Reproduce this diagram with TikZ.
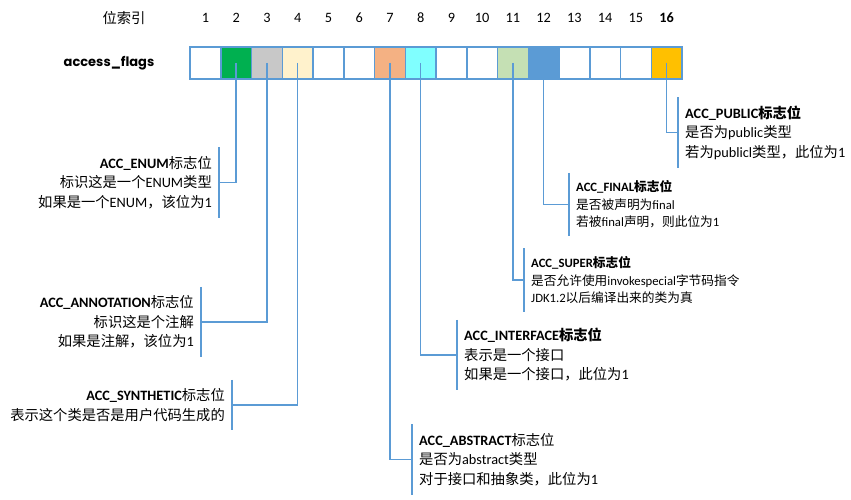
\documentclass[tikz,border=0pt]{standalone}
\usepackage{fontspec}
\setmainfont{Carlito}
\newfontfamily\zhfont{Noto Sans CJK SC}
\newfontfamily\flagfont{Poppins}
\newcommand{\zh}[1]{{\zhfont #1}}
\definecolor{cellblue}{RGB}{91,155,213}
\definecolor{flaggreen}{RGB}{0,176,80}
\definecolor{flaggray}{RGB}{200,200,200}
\definecolor{flagcream}{RGB}{255,242,204}
\definecolor{flagorange}{RGB}{244,177,131}
\definecolor{flagcyan}{RGB}{128,255,255}
\definecolor{flagsage}{RGB}{197,224,180}
\definecolor{flagamber}{RGB}{255,192,0}

\begin{document}
\begin{tikzpicture}[x=1pt, y=-1pt,
    cell/.style={draw=cellblue, line width=1.5pt, minimum width=30.75pt,
                 minimum height=32pt, inner sep=0pt},
    idx/.style={font=\fontsize{14.3}{17}\selectfont, inner sep=0pt},
    wire/.style={draw=cellblue, line width=1.4pt},
    lnote/.style={align=right, inner xsep=7pt, inner ysep=0pt,
                  minimum height=70pt, font=\fontsize{14.3}{19.5}\selectfont},
    rnote/.style={lnote, align=left},
    smallnote/.style={minimum height=63pt, font=\fontsize{12.7}{17.5}\selectfont},
]
\useasboundingbox (0,0) rectangle (851,500);

\foreach \i/\c in {1/white,2/flaggreen,3/flaggray,4/flagcream,5/white,6/white,
                   7/flagorange,8/flagcyan,9/white,10/white,11/flagsage,
                   12/cellblue,13/white,14/white,15/white,16/flagamber}
  \node[cell, fill=\c] (c\i) at ({190+30.75*(\i-0.5)},63) {};

\node[idx] (hd) at (124,18) {\zh{位索引}};
\foreach \i in {1,...,15}
  \node[idx] (n\i) at (c\i |- 0,18) {\i};
\node[idx, font=\fontsize{14.3}{17}\selectfont\bfseries] (n16) at (c16 |- 0,18) {16};

\node[font=\flagfont\bfseries\fontsize{13}{15}\selectfont] (af) at (109,63) {access\_flags};

\node[lnote, anchor=east] (enumnote) at (219,182.5)
    {\textbf{ACC\_ENUM}\zh{标志位}\\
     \zh{标识这是一个}ENUM\zh{类型}\\
     \zh{如果是一个}ENUM\zh{，该位为}1};
\node[lnote, anchor=east] (annonote) at (201,322)
    {\textbf{ACC\_ANNOTATION}\zh{标志位}\\
     \zh{标识这是个注解}\\
     \zh{如果是注解，该位为}1};
\node[lnote, anchor=east, minimum height=50pt] (synnote) at (232,405)
    {\textbf{ACC\_SYNTHETIC}\zh{标志位}\\
     \zh{表示这个类是否是用户代码生成的}};

\node[rnote, anchor=west] (absnote) at (412,459.5)
    {\textbf{ACC\_ABSTRACT}\zh{标志位}\\
     \zh{是否为}abstract\zh{类型}\\
     \zh{对于接口和抽象类，此位为}1};
\node[rnote, anchor=west] (ifnote) at (457,355)
    {\textbf{ACC\_INTERFACE\zh{标志位}}\\
     \zh{表示是一个接口}\\
     \zh{如果是一个接口，此位为}1};
\node[rnote, smallnote, anchor=west] (supnote) at (524,280)
    {\textbf{ACC\_SUPER\zh{标志位}}\\
     \zh{是否允许使用}invokespecial\zh{字节码指令}\\
     JDK1.2\zh{以后编译出来的类为真}};
\node[rnote, smallnote, anchor=west] (finnote) at (569,204.5)
    {\textbf{ACC\_FINAL\zh{标志位}}\\
     \zh{是否被声明为}final\\
     \zh{若被}final\zh{声明，则此位为}1};
\node[rnote, anchor=west] (pubnote) at (678,132.5)
    {\textbf{ACC\_PUBLIC\zh{标志位}}\\
     \zh{是否为}public\zh{类型}\\
     \zh{若为}publicl\zh{类型，此位为}1};

\foreach \c/\n in {2/enumnote,3/annonote,4/synnote} {
  \draw[wire] (\n.north east) -- (\n.south east);
  \draw[wire] (c\c.center) |- (\n.east);
}
\foreach \c/\n in {7/absnote,8/ifnote,11/supnote,12/finnote,16/pubnote} {
  \draw[wire] (\n.north west) -- (\n.south west);
  \draw[wire] (c\c.center) |- (\n.west);
}
\end{tikzpicture}
\end{document}
